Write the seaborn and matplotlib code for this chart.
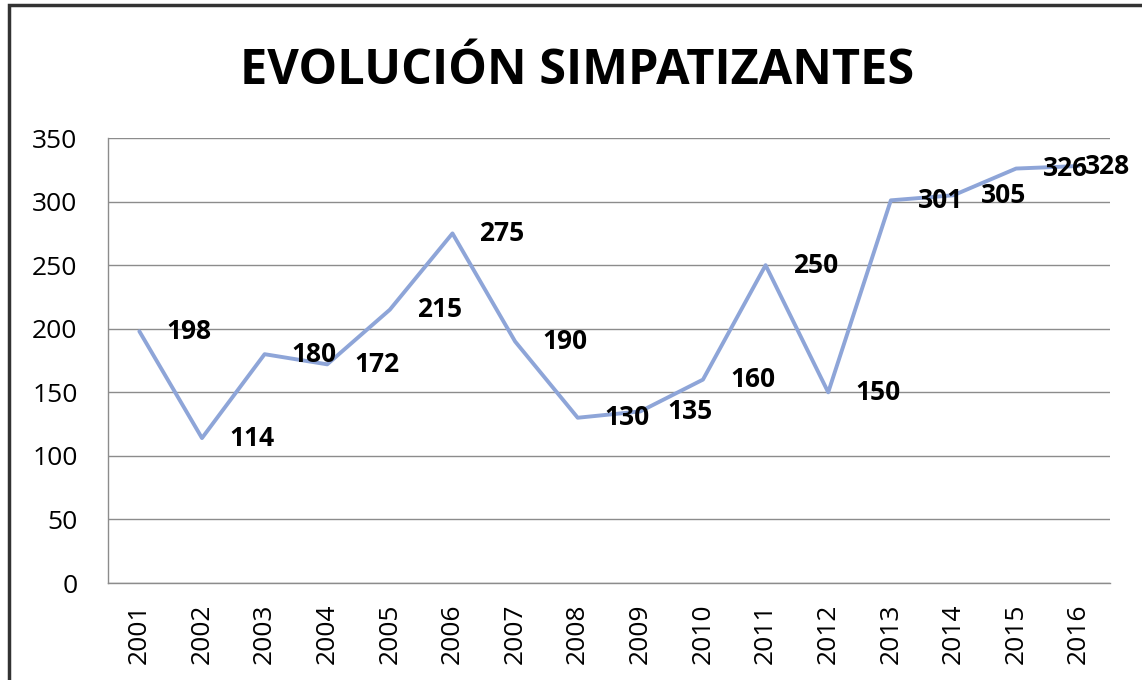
import matplotlib
matplotlib.use("Agg")
import matplotlib.pyplot as plt
import seaborn as sns
import pandas as pd
from matplotlib.patches import Rectangle

years = ["2001", "2002", "2003", "2004", "2005", "2006", "2007", "2008",
         "2009", "2010", "2011", "2012", "2013", "2014", "2015", "2016"]
values = [198, 114, 180, 172, 215, 275, 190, 130, 135, 160, 250, 150, 301, 305, 326, 328]
title = "EVOLUCIÓN SIMPATIZANTES"

sns.set_theme(style="white")
plt.rcParams['font.family'] = ['Open Sans', 'DejaVu Sans']

df = pd.DataFrame({"year": years, "value": values})

fig = plt.figure(figsize=(11.42, 6.8), dpi=100)
ax = fig.add_axes([0.0946, 0.1426, 0.972 - 0.0946, 0.797 - 0.1426])

sns.lineplot(data=df, x="year", y="value", ax=ax, color="#8EA5D8", linewidth=2.8, sort=False)

ax.set_ylim(0, 350)
ax.set_xlim(-0.5, len(years) - 0.5)
ax.set_yticks(range(0, 351, 50))
ax.yaxis.grid(True, color="#8c8c8c", linewidth=1)
ax.set_axisbelow(True)
ax.set_xlabel("")
ax.set_ylabel("")
ax.tick_params(axis="y", labelsize=19, length=0, pad=22, colors="#000000")
ax.tick_params(axis="x", labelsize=19, length=0, pad=15, rotation=90, colors="#000000")
for s in ["left", "bottom"]:
    ax.spines[s].set_color("#8c8c8c")
    ax.spines[s].set_linewidth(1)
for s in ["top", "right"]:
    ax.spines[s].set_visible(False)

for i, v in enumerate(values):
    dx = 27 if i < len(values) - 1 else 6
    ax.annotate(str(v), (i, v), xytext=(dx, 0), textcoords="offset pixels",
                ha="left", va="center", fontsize=19, fontweight="bold", color="#000000")

fig.text(0.505, 0.895, title, ha="center", va="center", fontsize=35, fontweight="bold", color="#000000")

fig.patches.append(Rectangle((9/1142, -0.05), 1.2, 1 - 5/680 + 0.05, transform=fig.transFigure,
                             fill=False, edgecolor="#333333", linewidth=2.5))

fig.savefig("out.png", dpi=100)
